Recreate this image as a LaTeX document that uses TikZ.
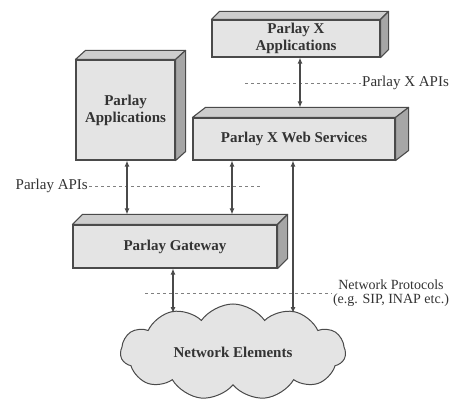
\documentclass[tikz,border=0pt]{standalone}
\usepackage{fontspec}
\setmainfont{Liberation Serif}
\usetikzlibrary{positioning,shapes.symbols,arrows.meta}

\definecolor{facegray}{HTML}{E4E4E4}
\definecolor{topgray}{HTML}{CDCDCD}
\definecolor{sidegray}{HTML}{A6A6A6}
\definecolor{linegray}{HTML}{4A4A4A}
\definecolor{inkgray}{HTML}{333333}

\tikzset{
  slabbox/.style={draw=linegray, line width=1.1pt, fill=facegray, inner sep=0pt,
    font=\fontsize{15}{17}\selectfont\bfseries, text=inkgray, align=center},
  topface/.style={draw=linegray, line width=1.1pt, fill=topgray, line join=round},
  sideface/.style={draw=linegray, line width=1.1pt, fill=sidegray, line join=round},
  apiline/.style={draw=linegray!70, dashed, line width=0.8pt},
  apilabel/.style={font=\fontsize{15}{15}\selectfont, text=inkgray, inner sep=1pt, align=center},
  link/.style={draw=linegray, line width=1.1pt, {Latex[length=6pt,width=5pt]}-{Latex[length=6pt,width=5pt]}}
}

% top and right face of a box node: name, depth x, depth y
\newcommand\slab[3]{%
  \filldraw[topface] (#1.north west) -- ++(#2,-#3) -- ([shift={(#2,-#3)}]#1.north east) -- (#1.north east) -- cycle;
  \filldraw[sideface] (#1.north east) -- ++(#2,-#3) -- ([shift={(#2,-#3)}]#1.south east) -- (#1.south east) -- cycle;}

\begin{document}
\begin{tikzpicture}[x=1pt,y=-1pt]
  \useasboundingbox[fill=white] (0,0) rectangle (460,403);

  % boxes
  \node[slabbox, minimum width=168pt, minimum height=37pt] (xapp) at (296,38.5) {Parlay X\\Applications};
  \slab{xapp}{8}{8}
  \node[slabbox, minimum width=99pt, minimum height=100pt] (papp) at (125.5,110) {Parlay\\Applications};
  \slab{papp}{10}{9}
  \node[slabbox, minimum width=202pt, minimum height=42pt] (xws) at (294,139) {Parlay X Web Services};
  \slab{xws}{13}{10}
  \node[slabbox, minimum width=204pt, minimum height=43pt] (gw) at (175,246.5) {Parlay Gateway};
  \slab{gw}{10}{10}

  % cloud
  \node[cloud, cloud puffs=11, cloud puff arc=110, aspect=2.4, draw=linegray, line width=1pt,
    fill=facegray, minimum width=225pt, minimum height=96pt, inner sep=0pt,
    font=\fontsize{15}{17}\selectfont\bfseries, text=inkgray] (net) at (233,352) {Network Elements};

  % interface lines
  \node[apilabel, anchor=west] (xapis) at (361,83) {Parlay X APIs};
  \coordinate (xapis0) at (245,83);
  \draw[apiline] (xapis0) -- (xapis.west);
  \node[apilabel, anchor=east] (papis) at (89,186) {Parlay APIs};
  \coordinate (papis1) at (262,186);
  \draw[apiline] (papis.east) -- (papis1);
  \node[apilabel, font=\fontsize{14}{14}\selectfont] (proto) at (391,293.5) {Network Protocols\\(e.g. SIP, INAP etc.)};
  \coordinate (proto0) at (145,293);
  \draw[apiline] (proto0) -- (proto.west |- proto0);

  % connectors
  \coordinate (xa) at (300,0);
  \coordinate (pa) at (127,0);
  \coordinate (pb) at (232,0);
  \coordinate (na) at (173,313);
  \coordinate (nb) at (293,313);
  \draw[link] (xapp.south -| xa) -- ([yshift=10pt]xws.north -| xa);
  \draw[link] (papp.south -| pa) -- ([yshift=10pt]gw.north -| pa);
  \draw[link] (xws.south -| pb) -- ([yshift=10pt]gw.north -| pb);
  \draw[link] (xws.south -| nb) -- (nb);
  \draw[link] (gw.south -| na) -- (na);
\end{tikzpicture}
\end{document}
